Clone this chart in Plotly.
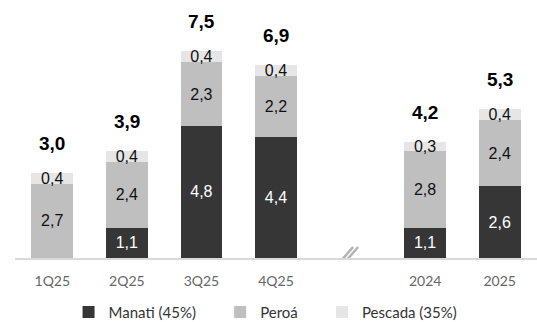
import plotly.graph_objects as go

periods = ["1Q25", "2Q25", "3Q25", "4Q25", "2024", "2025"]
xpos = [0, 1, 2, 3, 5, 6]
manati = [None, 1.1, 4.8, 4.4, 1.1, 2.6]
peroa = [2.7, 2.4, 2.3, 2.2, 2.8, 2.4]
pescada = [0.4, 0.4, 0.4, 0.4, 0.3, 0.4]
totals = [3.0, 3.9, 7.5, 6.9, 4.2, 5.3]

pad = "\u00a0" * 5
series = [
    ("Manati (45%)" + pad, manati, "#363636", "white"),
    ("Peroá" + pad, peroa, "#bfbfbf", "#111111"),
    ("Pescada (35%)", pescada, "#e6e6e6", "#111111"),
]

fig = go.Figure()
for name, vals, col, tcol in series:
    fig.add_trace(go.Bar(
        x=xpos, y=vals, name=name, marker_color=col, marker_line_width=0,
        width=0.56, texttemplate="%{y:.1f}", textposition="inside",
        insidetextanchor="middle", constraintext="none",
        textfont=dict(color=tcol, size=16, family="Liberation Sans"),
    ))

stack_tops = [(m or 0) + p + s for m, p, s in zip(manati, peroa, pescada)]
for x, top, t in zip(xpos, stack_tops, totals):
    fig.add_annotation(x=x, y=top, text=f"<b>{t:.1f}</b>".replace(".", ","),
                       showarrow=False, yanchor="bottom", yshift=17,
                       font=dict(size=19, color="black", family="Liberation Sans"))

# axis break mark
for dx in (-3, 2):
    fig.add_shape(type="line", xref="x", yref="y", xsizemode="pixel", ysizemode="pixel",
                  xanchor=3.94, yanchor=0, x0=dx - 10, x1=dx + 10, y0=-12, y1=11,
                  line=dict(color="#b3b3b3", width=2.5))

fig.update_layout(
    barmode="stack", separators=",.",
    width=537, height=322, margin=dict(l=15, r=0, t=10, b=64, autoexpand=False),
    plot_bgcolor="white", paper_bgcolor="white",
    uniformtext=dict(minsize=16, mode="show"),
    font=dict(family="Lato", color="#555555"),
    xaxis=dict(range=[-0.5, 6.5], tickvals=xpos, ticktext=periods, showgrid=False,
               showline=True, linecolor="#d9d9d9", linewidth=2, ticks="outside",
               ticklen=9, tickcolor="rgba(0,0,0,0)",
               tickfont=dict(size=14, color="#666666"), zeroline=False),
    yaxis=dict(range=[0, 9.0], visible=False),
    legend=dict(orientation="h", x=0.48, xanchor="center", yref="container",
                y=0.03, yanchor="middle",
                font=dict(size=15, color="#333333"), traceorder="normal"),
    showlegend=True,
)
fig.write_html("out.html")
